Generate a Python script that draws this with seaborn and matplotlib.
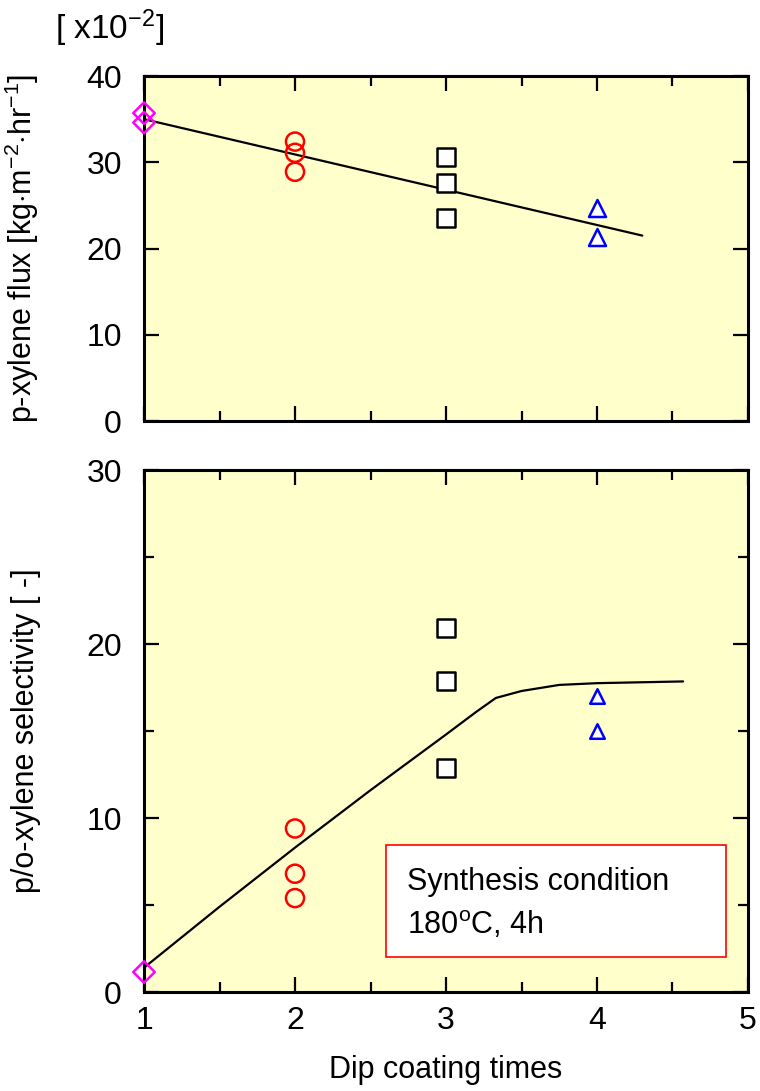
import matplotlib
matplotlib.use('Agg')
import matplotlib.pyplot as plt
import seaborn as sns
from matplotlib.patches import Rectangle

# flux data [x10^-2 kg m-2 hr-1]
flux_x1 = [1, 1]
flux_y1 = [35.7, 34.6]
flux_x2 = [2, 2, 2]
flux_y2 = [32.4, 31.1, 28.9]
flux_x3 = [3, 3, 3]
flux_y3 = [30.6, 27.6, 23.5]
flux_x4 = [4, 4]
flux_y4 = [24.7, 21.3]
flux_fit_x = [1, 4.3]
flux_fit_y = [35.0, 21.5]

# selectivity data
sel_x1 = [1]
sel_y1 = [1.15]
sel_x2 = [2, 2, 2]
sel_y2 = [9.4, 6.8, 5.4]
sel_x3 = [3, 3, 3]
sel_y3 = [20.9, 17.9, 12.9]
sel_x4 = [4, 4]
sel_y4 = [17.0, 15.0]
sel_fit_x = [1, 1.5, 2, 2.5, 3, 3.2, 3.33, 3.5, 3.75, 4, 4.57]
sel_fit_y = [1.4, 4.9, 8.3, 11.6, 14.8, 16.1, 16.9, 17.3, 17.65, 17.75, 17.85]

sns.set_style("ticks")
plt.rcParams['font.family'] = ['Liberation Sans', 'DejaVu Sans']
plt.rcParams['mathtext.fontset'] = 'custom'
plt.rcParams['mathtext.rm'] = 'Liberation Sans'
plt.rcParams['mathtext.it'] = 'Liberation Sans'
for k in ['text.color', 'axes.labelcolor', 'xtick.color', 'ytick.color', 'axes.edgecolor']:
    plt.rcParams[k] = 'black'

bg = '#FFFFCC'
fig = plt.figure(figsize=(7.6, 10.91), dpi=100)
ax1 = fig.add_axes([0.1895, 0.6141, 0.7947, 0.3162])
ax2 = fig.add_axes([0.1895, 0.0907, 0.7947, 0.4785])

def series(ax, xs, ys, marker, color, face, size):
    sns.scatterplot(x=xs, y=ys, ax=ax, marker=marker, s=size, facecolor=face,
                    edgecolor=color, linewidth=1.8, zorder=3, clip_on=False)

# top panel
sns.lineplot(x=flux_fit_x, y=flux_fit_y, ax=ax1, color='black', lw=1.6, zorder=2)
series(ax1, flux_x1, flux_y1, 'D', '#FF00FF', 'none', 120)
series(ax1, flux_x2, flux_y2, 'o', 'red', 'none', 170)
series(ax1, flux_x3, flux_y3, 's', 'black', 'white', 170)
series(ax1, flux_x4, flux_y4, '^', 'blue', 'white', 150)

# bottom panel
sns.lineplot(x=sel_fit_x, y=sel_fit_y, ax=ax2, color='black', lw=1.6, zorder=2, sort=False)
series(ax2, sel_x1, sel_y1, 'D', '#FF00FF', 'none', 120)
series(ax2, sel_x2, sel_y2, 'o', 'red', 'none', 170)
series(ax2, sel_x3, sel_y3, 's', 'black', 'white', 170)
series(ax2, sel_x4, sel_y4, '^', 'blue', 'white', 110)

for ax in (ax1, ax2):
    ax.set_facecolor(bg)
    ax.set_xlim(1, 5)
    for sp in ax.spines.values():
        sp.set_linewidth(2.2)
        sp.set_visible(True)
    ax.set_xticks([1, 2, 3, 4, 5])
    ax.set_xticks([1.5, 2.5, 3.5, 4.5], minor=True)
    ax.tick_params(which='both', direction='in', top=True, right=True, width=1.6,
                   labelsize=23)
    ax.tick_params(axis='y', pad=16)
    ax.tick_params(axis='x', pad=10)
    ax.tick_params(which='major', length=11)
    ax.tick_params(which='minor', length=7)

ax1.set_ylim(0, 40)
ax1.set_yticks([0, 10, 20, 30, 40])
ax1.tick_params(axis='x', labelbottom=False)
ax1.set_ylabel(r'p-xylene flux [kg$\cdot$m$^{-2}$$\cdot$hr$^{-1}$]', fontsize=22)
ax1.yaxis.set_label_coords(-0.17, 0.5)

ax2.set_ylim(0, 30)
ax2.set_yticks([0, 10, 20, 30])
ax2.set_yticks([5, 15, 25], minor=True)
ax2.set_ylabel('p/o-xylene selectivity [ -]', fontsize=22)
ax2.yaxis.set_label_coords(-0.17, 0.5)
ax2.set_xlabel('Dip coating times', fontsize=22, labelpad=14)

fig.text(55 / 760, 1 - 28 / 1091, r'[ x10$^{-2}$]', fontsize=24, ha='left', va='center')

ax2.add_patch(Rectangle((0.4007, 0.067), 0.5629, 0.2146, transform=ax2.transAxes,
                        facecolor='white', edgecolor='red', lw=1.2, zorder=4))
ax2.text(0.4354, 0.211, 'Synthesis condition', transform=ax2.transAxes,
         fontsize=22, ha='left', va='center', zorder=5)
ax2.text(0.4354, 0.128, r'180$^{\mathrm{o}}$C, 4h', transform=ax2.transAxes,
         fontsize=22, ha='left', va='center', zorder=5)

fig.savefig('out.png', dpi=100)
